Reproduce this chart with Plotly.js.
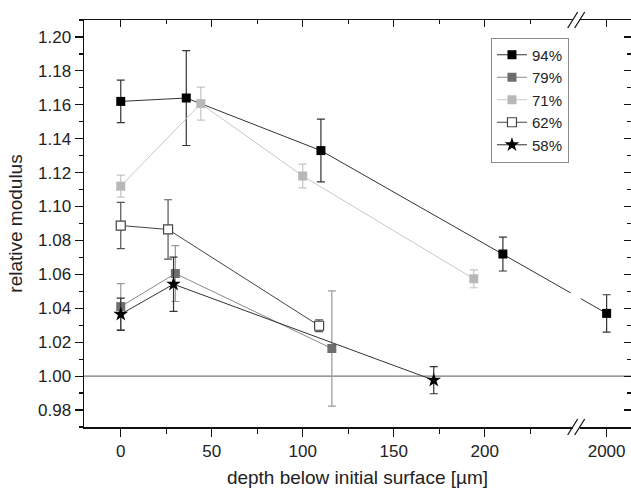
<!DOCTYPE html>
<html>
<head>
<meta charset="utf-8">
<script src="https://cdn.plot.ly/plotly-3.0.1.min.js"></script>
<style>html,body{margin:0;padding:0;background:#fff;}#chart{width:631px;height:490px;}</style>
</head>
<body>
<div id="chart"></div>
<script>
// ---- data ----
const seriesNames = ['94%', '79%', '71%', '62%', '58%'];
const depth94 = [0, 36, 110, 210, 2000];
const mod94   = [1.162, 1.164, 1.133, 1.072, 1.037];
const err94   = [0.0125, 0.028, 0.0185, 0.010, 0.011];
const depth79 = [0, 30, 116];
const mod79   = [1.041, 1.0605, 1.0163];
const err79   = [0.0135, 0.0165, 0.034];
const depth71 = [0, 44, 100, 194];
const mod71   = [1.112, 1.1607, 1.118, 1.0574];
const err71   = [0.0065, 0.0097, 0.007, 0.0053];
const depth62 = [0, 26, 109];
const mod62   = [1.0888, 1.0865, 1.0297];
const err62   = [0.0136, 0.0175, 0.0035];
const depth58 = [0, 29, 172];
const mod58   = [1.0365, 1.0542, 0.9976];
const err58   = [0.0095, 0.016, 0.008];
const xTickVals = [0, 50, 100, 150, 200, 2000];
const xMinorVals = [25, 75, 125, 175, 225];
const referenceLevel = 1.00;

// ---- broken x scale: 0..250 linear, then a break, then the 2000 segment ----
const BREAK_AT = 250;       // axis position of the break marks
const SEG2_START = 1000;    // values above this are in the second segment
const POS_2000 = 267;       // axis position of 2000
function brk(v) { return v < SEG2_START ? v : POS_2000 + (v - 2000) * 0.01; }
const X_RANGE = [-20.2, 280.4];
const Y_RANGE = [0.97, 1.21];

const FONT = 'Arial, "Liberation Sans", sans-serif';

function mk(name, xs, ys, es, markerColor, lineColor, errColor, symbol, size, lineOfMarker) {
  return {
    type: 'scatter', mode: 'lines+markers', name: name,
    x: xs.map(brk), y: ys,
    line: {color: lineColor, width: 1},
    marker: {symbol: symbol, size: size, color: markerColor,
             line: {color: lineOfMarker || markerColor, width: lineOfMarker ? 1.2 : 0}},
    error_y: {type: 'data', array: es, visible: true, color: errColor, thickness: 1.2, width: 4},
    cliponaxis: false
  };
}

const traces = [
  mk(seriesNames[0], depth94, mod94, err94, '#000000', '#333333', '#333333', 'square', 9),
  mk(seriesNames[1], depth79, mod79, err79, '#6e6e6e', '#8a8a8a', '#9a9a9a', 'square', 9),
  mk(seriesNames[2], depth71, mod71, err71, '#b8b8b8', '#c8c8c8', '#c4c4c4', 'square', 9),
  mk(seriesNames[3], depth62, mod62, err62, '#ffffff', '#444444', '#555555', 'square', 9, '#444444'),
  mk(seriesNames[4], depth58, mod58, err58, '#000000', '#333333', '#333333', 'star', 11),
  {type: 'scatter', x: [], y: [], xaxis: 'x2', yaxis: 'y2', showlegend: false, hoverinfo: 'skip'}
];

// y value of the 94% line where it crosses the break (for the gap in the line)
function yAtBreak(xs, ys) {
  for (let i = 0; i < xs.length - 1; i++) {
    const a = brk(xs[i]), b = brk(xs[i + 1]);
    if (a <= BREAK_AT && b >= BREAK_AT) return ys[i] + (ys[i + 1] - ys[i]) * (BREAK_AT - a) / (b - a);
  }
  return null;
}
const gapY = yAtBreak(depth94, mod94);

const axisColor = '#111';
const tickFont = {family: FONT, size: 17, color: '#222'};
const titleFont = {family: FONT, size: 19, color: '#222'};

function breakShapes(yanchor) {
  const base = {xref: 'x', yref: 'paper', xsizemode: 'pixel', ysizemode: 'pixel',
                xanchor: BREAK_AT, yanchor: yanchor, layer: 'above'};
  return [
    Object.assign({}, base, {type: 'rect', x0: -3, x1: 4, y0: -2.5, y1: 2.5,
                             fillcolor: '#ffffff', line: {width: 0}}),
    Object.assign({}, base, {type: 'line', x0: -8, x1: 2, y0: -8, y1: 8, line: {color: axisColor, width: 1.3}}),
    Object.assign({}, base, {type: 'line', x0: -1, x1: 9, y0: -8, y1: 8, line: {color: axisColor, width: 1.3}})
  ];
}

const shapes = [
  {type: 'line', xref: 'paper', x0: 0, x1: 1, yref: 'y', y0: referenceLevel, y1: referenceLevel,
   line: {color: '#7a7a7a', width: 1.2}, layer: 'below'},
  {type: 'rect', xref: 'x', yref: 'y', xsizemode: 'pixel', ysizemode: 'pixel',
   xanchor: BREAK_AT, yanchor: gapY, x0: -5, x1: 5, y0: -4, y1: 4,
   fillcolor: '#ffffff', line: {width: 0}, layer: 'above'}
].concat(breakShapes(0), breakShapes(1));

const layout = {
  width: 631, height: 490,
  margin: {l: 84, r: 0, t: 20, b: 63},
  paper_bgcolor: '#ffffff', plot_bgcolor: '#ffffff',
  font: {family: FONT, color: '#222'},
  showlegend: true,
  legend: {x: 0.744, y: 0.957, xanchor: 'left', yanchor: 'top',
           bordercolor: '#8a8a8a', borderwidth: 1, bgcolor: '#ffffff',
           font: {family: FONT, size: 15, color: '#222'}, tracegroupgap: 0},
  xaxis: {
    range: X_RANGE, showgrid: false, zeroline: false,
    showline: true, linecolor: axisColor, linewidth: 1.5,
    tickmode: 'array', tickvals: xTickVals.map(brk), ticktext: xTickVals.map(String),
    ticks: 'outside', ticklen: 8, tickwidth: 1.2, tickcolor: axisColor,
    minor: {tickmode: 'array', tickvals: xMinorVals.map(brk), ticks: 'outside', ticklen: 5, tickwidth: 1.2, tickcolor: axisColor},
    tickfont: tickFont,
    title: {text: 'depth below initial surface [µm]', font: titleFont, standoff: 11}
  },
  xaxis2: {
    overlaying: 'x', side: 'top', anchor: 'y2', range: X_RANGE, showgrid: false, zeroline: false,
    showline: true, linecolor: axisColor, linewidth: 1.5, showticklabels: false,
    tickmode: 'array', tickvals: xTickVals.map(brk),
    ticks: 'inside', ticklen: 7, tickwidth: 1.2, tickcolor: axisColor,
    minor: {tickmode: 'array', tickvals: xMinorVals.map(brk), ticks: 'inside', ticklen: 4, tickwidth: 1.2, tickcolor: axisColor}
  },
  yaxis: {
    range: Y_RANGE, showgrid: false, zeroline: false,
    showline: true, linecolor: axisColor, linewidth: 1.5,
    tickmode: 'linear', tick0: 0.98, dtick: 0.02, tickformat: '.2f',
    ticks: 'outside', ticklen: 8, tickwidth: 1.2, tickcolor: axisColor,
    minor: {dtick: 0.01, ticks: 'outside', ticklen: 4, tickwidth: 1.2, tickcolor: axisColor},
    tickfont: tickFont,
    title: {text: 'relative modulus', font: titleFont, standoff: 10}
  },
  yaxis2: {
    overlaying: 'y', side: 'right', anchor: 'x2', range: Y_RANGE, showgrid: false, zeroline: false,
    showline: true, linecolor: axisColor, linewidth: 1.5, showticklabels: false,
    tickmode: 'linear', tick0: 0.98, dtick: 0.02,
    ticks: 'inside', ticklen: 7, tickwidth: 1.2, tickcolor: axisColor,
    minor: {dtick: 0.01, ticks: 'inside', ticklen: 4, tickwidth: 1.2, tickcolor: axisColor}
  },
  shapes: shapes
};

Plotly.newPlot('chart', traces, layout, {displayModeBar: false, staticPlot: true});
</script>
</body>
</html>
